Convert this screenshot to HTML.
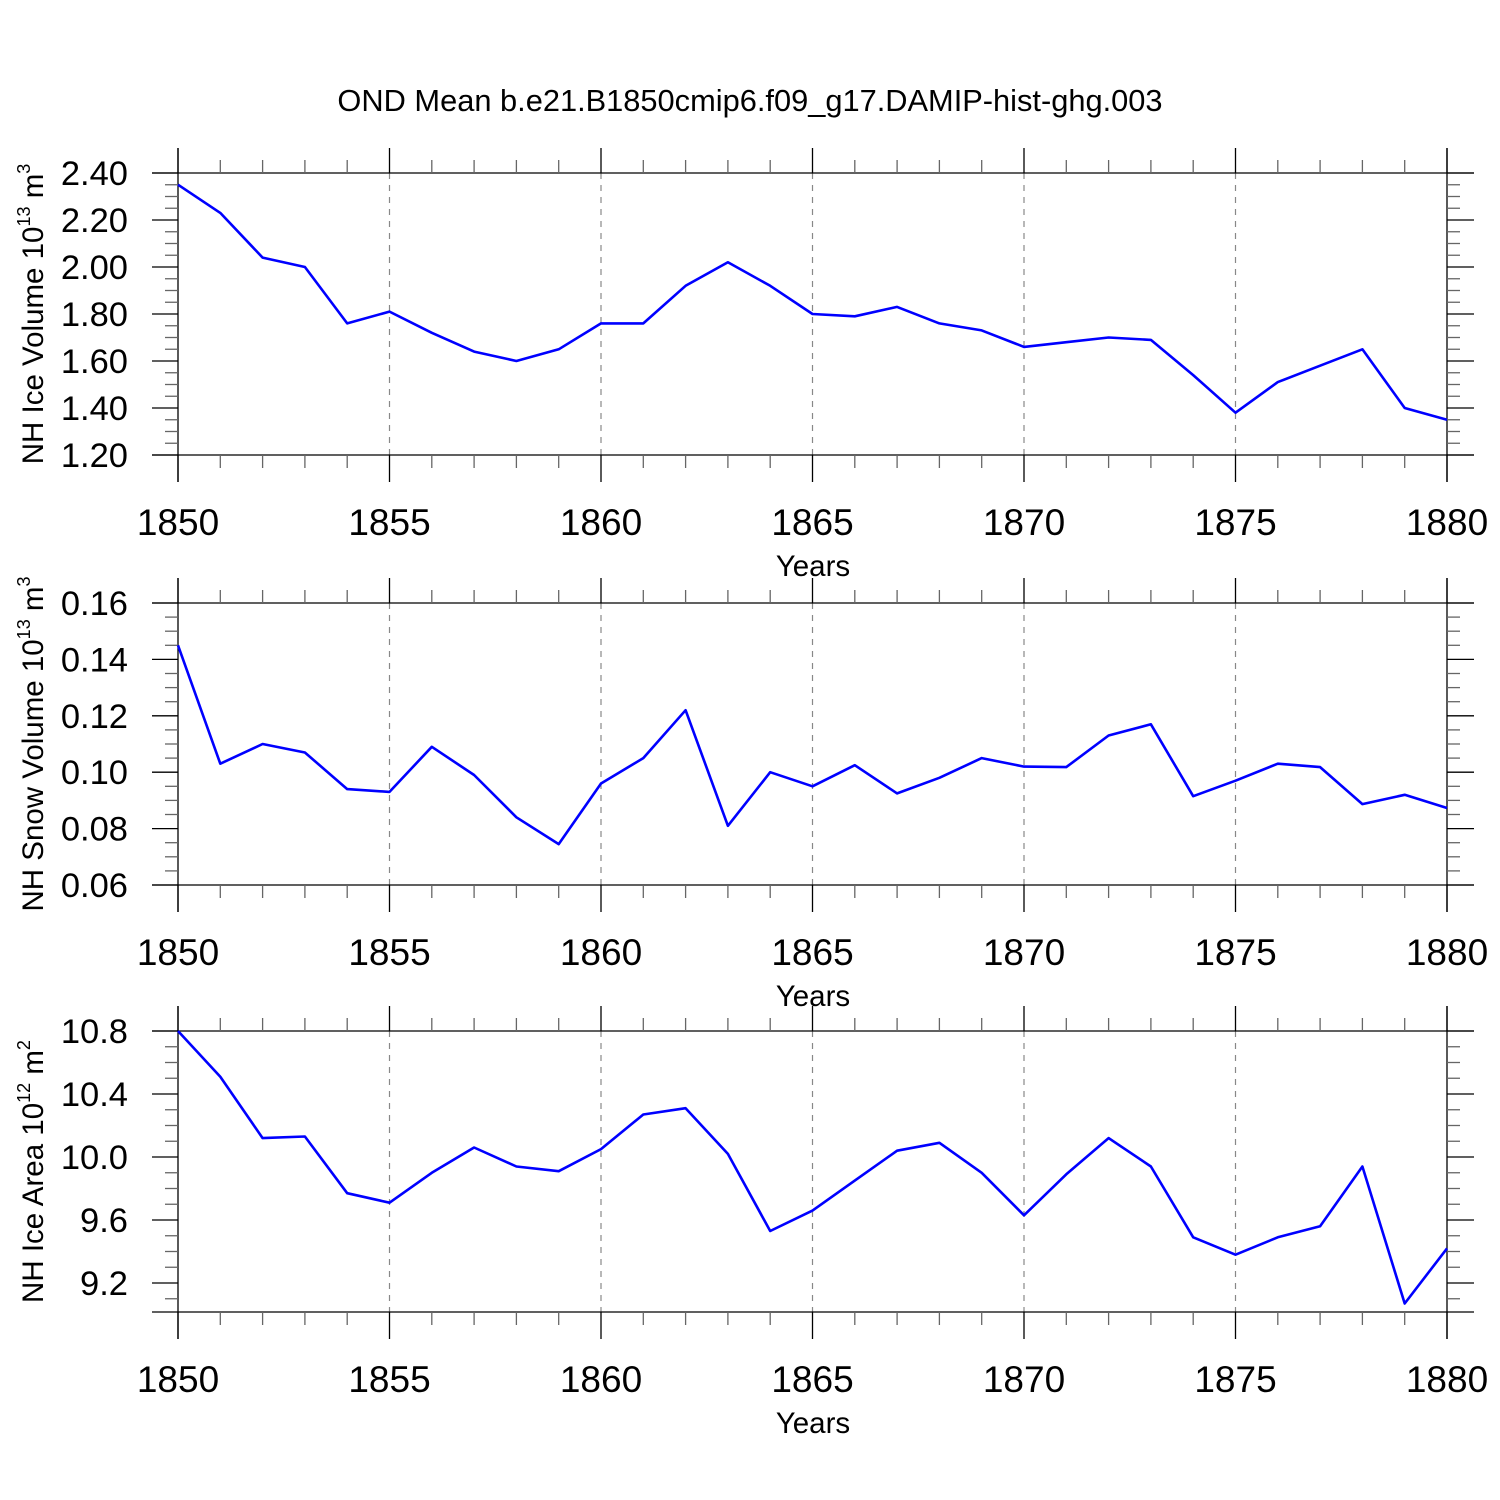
<!DOCTYPE html>
<html><head><meta charset="utf-8">
<style>
html,body{margin:0;padding:0;background:#fff;}
svg{display:block;font-family:"Liberation Sans",sans-serif;}
</style></head>
<body>
<svg id="chart" width="1500" height="1500" viewBox="0 0 1500 1500" xmlns="http://www.w3.org/2000/svg">
<rect width="1500" height="1500" fill="#fff"/>
<text x="750" y="111" font-size="30.8" text-anchor="middle">OND Mean b.e21.B1850cmip6.f09_g17.DAMIP-hist-ghg.003</text>
</svg>
<script>
const years = [1850,1851,1852,1853,1854,1855,1856,1857,1858,1859,1860,1861,1862,1863,1864,1865,1866,1867,1868,1869,1870,1871,1872,1873,1874,1875,1876,1877,1878,1879,1880];
const iceVolume = [2.35,2.23,2.04,2.00,1.76,1.81,1.72,1.64,1.60,1.65,1.76,1.76,1.92,2.02,1.92,1.80,1.79,1.83,1.76,1.73,1.66,1.68,1.70,1.69,1.54,1.38,1.51,1.58,1.65,1.40,1.35];
const snowVolume = [0.145,0.103,0.110,0.107,0.094,0.093,0.109,0.099,0.084,0.0745,0.096,0.105,0.122,0.081,0.100,0.095,0.1025,0.0925,0.098,0.105,0.102,0.1018,0.113,0.117,0.0915,0.097,0.103,0.1018,0.0887,0.092,0.0873];
const iceArea = [10.80,10.51,10.12,10.13,9.77,9.71,9.90,10.06,9.94,9.91,10.05,10.27,10.31,10.02,9.53,9.66,9.85,10.04,10.09,9.90,9.63,9.89,10.12,9.94,9.49,9.38,9.49,9.56,9.94,9.07,9.42];
const xTickLabels = ["1850","1855","1860","1865","1870","1875","1880"];
const iceVolTicks = ["2.40","2.20","2.00","1.80","1.60","1.40","1.20"];
const snowTicks = ["0.16","0.14","0.12","0.10","0.08","0.06"];
const areaTicks = ["10.8","10.4","10.0","9.6","9.2"];

const svg = document.getElementById('chart');
const NS = 'http://www.w3.org/2000/svg';
function mk(tag, attrs, parent){const e=document.createElementNS(NS,tag);for(const k in attrs)e.setAttribute(k,attrs[k]);(parent||svg).appendChild(e);return e;}
const X0=178, X1=1447, XMIN=1850, XMAX=1880;
function xs(v){return X0+(v-XMIN)/(XMAX-XMIN)*(X1-X0);}

function panel(cfg){
  const g=mk('g',{});
  
  
  const top=cfg.top, bot=cfg.bot;
  const ys=v=>cfg.yTopPx+(cfg.yTopVal-v)*cfg.pxPerUnit;
  const line=(x1,y1,x2,y2,st)=>mk('line',Object.assign({x1,y1,x2,y2,stroke:'#000','stroke-width':1.3},st||{}),g);
  for(let yr=1855; yr<1880; yr+=5){
    const gl=line(xs(yr),top,xs(yr),bot,{stroke:'#888','stroke-width':1.2,'stroke-dasharray':'6,6'});
    
    
  }
  line(152,top,1474,top); line(152,bot,1474,bot);
  line(X0,top-25,X0,bot+27); line(X1,top-25,X1,bot+27);
  for(let yr=XMIN; yr<=XMAX; yr++){
    const x=xs(yr);
    if(yr%5===0){line(x,top-25,x,top);line(x,bot,x,bot+27);}
    else{line(x,top-13,x,top,{stroke:'#666'});line(x,bot,x,bot+13,{stroke:'#666'});}
  }
  xTickLabels.forEach(t=>{
    const tx=mk('text',{x:xs(+t),y:bot+80,'font-size':37,'text-anchor':'middle'},g);
    
    
    tx.textContent=t;
  });
  const xt=mk('text',{x:813,y:bot+121,'font-size':29.5,'text-anchor':'middle'},g);
  
  
  xt.textContent='Years';
  const bottomVal=cfg.yTopVal-(bot-cfg.yTopPx)/cfg.pxPerUnit;
  for(let v=cfg.yTopVal; v>=bottomVal-1e-9; v-=cfg.minor){
    const y=ys(v);
    if(y>bot+0.5) break;
    const isMajor=Math.abs(Math.round((cfg.yTopVal-v)/cfg.major)*cfg.major-(cfg.yTopVal-v))<1e-6;
    if(isMajor){line(152,y,X0,y);line(X1,y,1474,y);}
    else{line(165,y,X0,y,{stroke:'#666'});line(X1,y,1460,y,{stroke:'#666'});}
  }
  cfg.ticks.forEach(t=>{
    const ty=mk('text',{x:128,y:ys(+t)+12,'font-size':34.5,'text-anchor':'end'},g);
    
    
    ty.textContent=t;
  });
  const cy=(top+bot)/2;
  const yt=mk('text',{x:0,y:0,'font-size':29.5,'text-anchor':'middle',transform:`translate(43,${cy}) rotate(-90)`},g);
  
  
  yt.innerHTML=cfg.title+' 10<tspan dy="-13" font-size="18">'+cfg.exp+'</tspan><tspan dy="13"> m</tspan><tspan dy="-13" font-size="18">'+cfg.mexp+'</tspan>';
  const pts=years.map((yr,i)=>xs(yr).toFixed(1)+','+ys(cfg.data[i]).toFixed(1)).join(' ');
  const pl=mk('polyline',{points:pts,fill:'none',stroke:'#0000ff','stroke-width':2.6,'stroke-linejoin':'round'},g);
  
  
}
panel({name:'ice-volume-panel',top:173,bot:455,yTopPx:173,yTopVal:2.40,pxPerUnit:235,major:0.2,minor:0.05,ticks:iceVolTicks,data:iceVolume,title:'NH Ice Volume',exp:'13',mexp:'3'});
panel({name:'snow-volume-panel',top:603,bot:885,yTopPx:603,yTopVal:0.16,pxPerUnit:2820,major:0.02,minor:0.005,ticks:snowTicks,data:snowVolume,title:'NH Snow Volume',exp:'13',mexp:'3'});
panel({name:'ice-area-panel',top:1031,bot:1312,yTopPx:1031,yTopVal:10.8,pxPerUnit:157.5,major:0.4,minor:0.1,ticks:areaTicks,data:iceArea,title:'NH Ice Area',exp:'12',mexp:'2'});
</script>
</body></html>
